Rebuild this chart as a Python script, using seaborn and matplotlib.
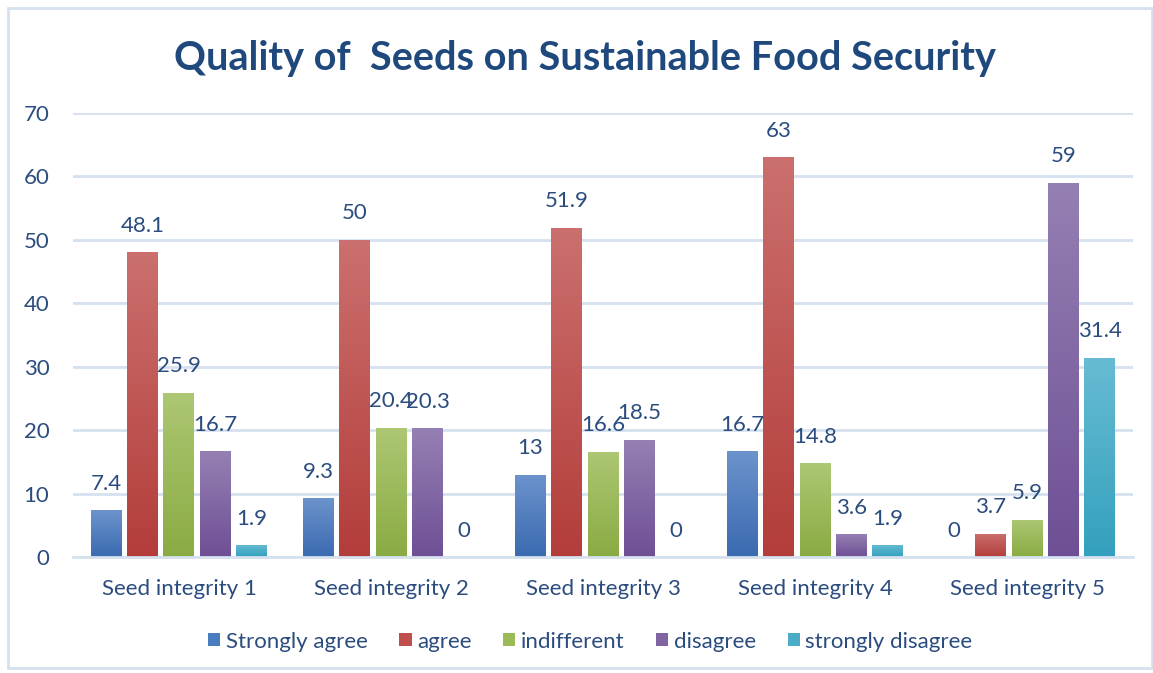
import numpy as np
import pandas as pd
import matplotlib
matplotlib.use("Agg")
import matplotlib.pyplot as plt
import seaborn as sns
from matplotlib.colors import LinearSegmentedColormap
from matplotlib.patches import Rectangle

categories = ["Seed integrity 1", "Seed integrity 2", "Seed integrity 3", "Seed integrity 4", "Seed integrity 5"]
series = ["Strongly agree", "agree", "indifferent", "disagree", "strongly disagree"]
strongly_agree = [7.4, 9.3, 13, 16.7, 0]
agree = [48.1, 50, 51.9, 63, 3.7]
indifferent = [25.9, 20.4, 16.6, 14.8, 5.9]
disagree = [16.7, 20.3, 18.5, 3.6, 59]
strongly_disagree = [1.9, 0, 0, 1.9, 31.4]
label_texts = [
    ["7.4", "9.3", "13", "16.7", "0"],
    ["48.1", "50", "51.9", "63", "3.7"],
    ["25.9", "20.4", "16.6", "14.8", "5.9"],
    ["16.7", "20.3", "18.5", "3.6", "59"],
    ["1.9", "0", "0", "1.9", "31.4"],
]

values = [strongly_agree, agree, indifferent, disagree, strongly_disagree]
rows = []
for s, vals in zip(series, values):
    for c, v in zip(categories, vals):
        rows.append({"category": c, "series": s, "value": v})
df = pd.DataFrame(rows)

base_colors = ["#4a7cc0", "#c0504d", "#9bbb59", "#8064a2", "#4bacc6"]
top_colors = ["#6c93cc", "#cb706e", "#adc773", "#9580b3", "#67bcd3"]
bot_colors = ["#3a6ab0", "#b33d3a", "#8aab43", "#6e4f95", "#34a0bd"]

sns.set_theme(style="white")
plt.rcParams["font.family"] = ["Lato", "DejaVu Sans"]

fig = plt.figure(figsize=(11.53, 6.73), dpi=100)
ax = fig.add_axes([0.0633, 0.1724, 0.9194, 0.6597])

sns.barplot(data=df, x="category", y="value", hue="series", hue_order=series,
            order=categories, palette=base_colors, width=0.86, gap=0.15,
            ax=ax, legend=True, saturation=1, edgecolor="none", linewidth=0)

ax.set_ylim(0, 70)
ax.set_xlim(-0.5, 4.5)
ax.set_yticks(range(0, 71, 10))
ax.yaxis.grid(True, color="#d6e1f0", linewidth=2)
ax.set_axisbelow(True)
for sp in ["top", "right", "left"]:
    ax.spines[sp].set_visible(False)
ax.spines["bottom"].set_color("#d6e1f0")
ax.spines["bottom"].set_linewidth(2)
ax.tick_params(axis="both", length=0, labelsize=16, colors="#2b4c7e")
ax.tick_params(axis="y", pad=17)
ax.tick_params(axis="x", pad=16)
ax.set_xlabel("")
ax.set_ylabel("")

# gradients and labels
grad = np.linspace(0, 1, 256).reshape(-1, 1)
for i, cont in enumerate(ax.containers):
    cmap = LinearSegmentedColormap.from_list(f"g{i}", [bot_colors[i], top_colors[i]])
    for j, bar in enumerate(cont):
        x0 = bar.get_x()
        w = bar.get_width()
        h = bar.get_height()
        if h > 0:
            im = ax.imshow(grad, cmap=cmap, aspect="auto", origin="lower",
                           extent=[x0, x0 + w, 0, h], zorder=bar.get_zorder() + 0.1)
            im.set_clip_path(bar)
        ax.annotate(label_texts[i][j], (x0 + w / 2, h), xytext=(0, 19),
                    textcoords="offset points", ha="center", va="center",
                    fontsize=16, color="#2b4c7e")
ax.set_xlim(-0.5, 4.5)
ax.set_ylim(0, 70)

leg = ax.legend(loc="center", bbox_to_anchor=(0.512, 0.0466), bbox_transform=fig.transFigure,
                ncol=5, frameon=False, fontsize=16, handlelength=0.55, handleheight=0.55,
                handletextpad=0.25, columnspacing=1.42)
for t in leg.get_texts():
    t.set_color("#2b4c7e")
for h, c in zip(leg.legend_handles, base_colors):
    h.set_facecolor(c)

fig.text(0.507, 0.913, "Quality of  Seeds on Sustainable Food Security", ha="center", va="center",
         fontsize=28.5, fontweight="bold", color="#1f497d")

fig.patches.append(Rectangle((8 / 1153, 5 / 673), 1 - 9 / 1153, 1 - 13 / 673,
                             transform=fig.transFigure, fill=False,
                             edgecolor="#d6e1f0", linewidth=2))

fig.savefig("out.png", dpi=100)
